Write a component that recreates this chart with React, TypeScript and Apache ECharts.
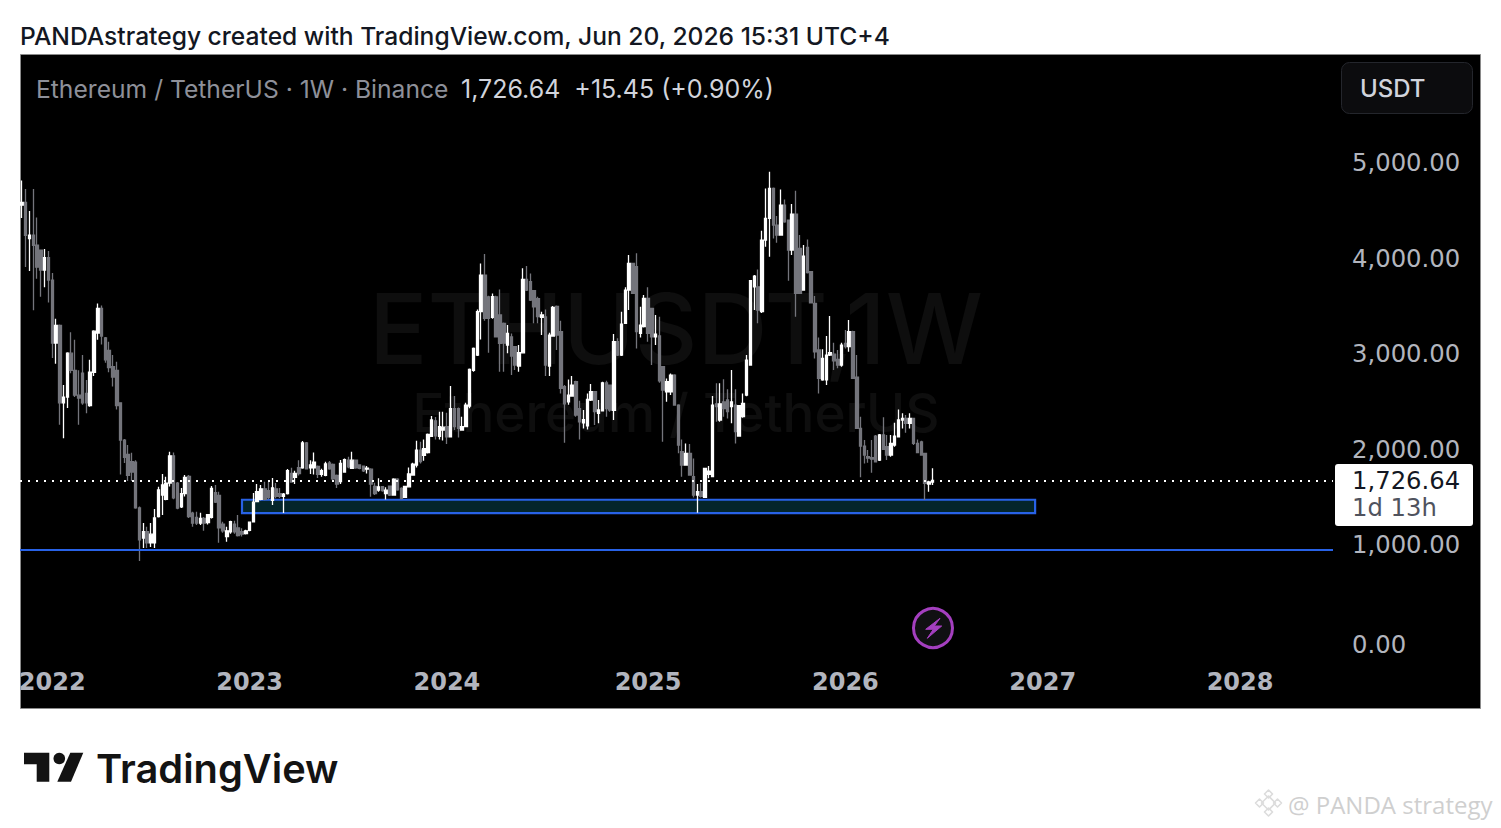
import React, { useEffect, useRef } from "react";
import * as echarts from "echarts";

const candleOpen = [
  4610,4640,4260,4295,4190,4140,3930,4060,3825,3166,
  3350,2540,2600,3060,2880,2620,2850,2640,2510,2860,
  3270,3530,3220,3090,2920,2880,2540,2150,2000,1925,
  1920,1440,1124,1190,1075,1075,1348,1575,1530,1700,
  1985,1700,1450,1590,1770,1385,1340,1280,1330,1285,
  1340,1600,1570,1270,1140,1190,1270,1230,1190,1170,
  1205,1295,1505,1530,1640,1620,1520,1640,1590,1560,
  1590,1800,1760,1860,1860,2120,1860,1860,1875,1790,
  1780,1910,1895,1780,1714,1815,1940,1854,1941,1889,
  1878,1845,1845,1665,1625,1662,1590,1668,1575,1740,
  1645,1550,1660,1784,1889,2045,1990,2018,2190,2352,
  2190,2255,2290,2185,2480,2480,2255,2290,2506,2880,
  3040,3494,3878,3650,3435,3650,3460,3372,3145,3230,
  3127,2925,3064,3833,3808,3714,3630,3435,3440,2925,
  3239,3550,3285,2710,2551,2611,2761,2480,2330,2300,
  2569,2656,2430,2457,2750,2726,2460,3180,3040,3372,
  3721,4000,3965,3267,3337,3634,3529,3230,3240,2918,
  2656,2656,2831,2517,2030,1889,2011,1766,1574,1610,
  1550,1790,1767,2530,2360,2550,2570,2500,2517,2192,
  2395,2622,2936,3755,3755,3494,4244,4471,4785,4401,
  4297,4611,4454,4140,4517,4157,3721,4168,3913,3580,
  3093,2780,2780,3040,3050,2995,2935,3162,3128,3285,
  2810,2272,2087,1977,1965,2192,1940,2203,2080,1993,
  2098,2185,2360,2378,2325,2377,2115,2130,2011,1690,1711,
];
const candleClose = [
  4640,4295,4295,4190,3960,3930,4060,3825,3166,3350,
  2540,2600,3060,2880,2620,2590,2540,2540,2860,3290,
  3530,3240,2990,2910,2810,2510,2150,1970,1780,1815,
  1440,1104,1190,1075,1165,1335,1627,1680,1700,1985,
  1545,1437,1590,1760,1350,1280,1280,1330,1280,1370,
  1645,1500,1230,1200,1200,1295,1190,1150,1165,1200,
  1290,1500,1610,1640,1530,1550,1650,1560,1560,1585,
  1830,1710,1800,1800,2120,1850,1890,1920,1790,1830,
  1900,1850,1745,1690,1906,1945,1870,1940,1860,1854,
  1829,1855,1690,1590,1660,1620,1625,1574,1740,1630,
  1540,1665,1795,1899,2045,1925,2060,2210,2360,2193,
  2290,2285,2185,2480,2290,2272,2290,2516,2890,3110,
  3494,3878,3424,3424,3651,3232,3162,3165,3267,3030,
  2935,3065,3833,3720,3616,3546,3442,3460,2935,3250,
  3539,3250,2691,2530,2620,2726,2412,2342,2365,2576,
  2656,2447,2465,2750,2480,2464,3180,3040,3365,3721,
  4000,3686,3285,3354,3634,3267,3232,3260,2770,2674,
  2761,2831,2517,2098,1889,2011,1784,1574,1610,1560,
  1854,1825,2517,2500,2530,2480,2447,2550,2238,2510,
  2534,2988,3819,3867,3511,4244,4471,4785,4401,4297,
  4611,4436,4140,4517,3686,3686,4077,3903,3588,3075,
  2796,3005,3040,3065,2980,2935,3145,3128,3285,2796,
  2272,2087,1993,1960,1950,1923,2203,2053,1993,2116,
  2192,2360,2378,2325,2378,2115,2018,1993,1697,1711,1726.64,
];
const candleLow = [
  4475,3962,3920,3510,3840,3650,3750,3590,3010,2950,
  2310,2170,2485,2850,2600,2310,2520,2430,2500,2820,
  3200,3150,2960,2860,2710,2470,1790,1910,1722,1722,
  1430,883,1020,1020,1030,1020,1340,1365,1520,1665,
  1530,1425,1440,1560,1335,1243,1260,1260,1200,1265,
  1330,1490,1075,1180,1086,1170,1170,1140,1140,1160,
  1195,1290,1500,1520,1520,1530,1470,1540,1543,1386,
  1580,1703,1690,1780,1850,1845,1795,1790,1753,1766,
  1770,1840,1730,1647,1690,1815,1854,1850,1850,1845,
  1815,1801,1557,1574,1609,1609,1529,1565,1570,1620,
  1529,1545,1655,1780,1864,1905,1934,2010,2185,2157,
  2157,2145,2108,2178,2255,2178,2248,2285,2482,2866,
  3030,3204,3400,3065,3420,3225,2866,2866,3058,2831,
  2883,2866,3060,3710,3605,3372,3372,3250,2820,2820,
  3235,3093,2639,2122,2520,2604,2395,2157,2272,2260,
  2560,2307,2325,2450,2395,2447,2360,3030,3030,3365,
  3511,3680,3110,3225,3330,3180,2936,3145,2750,2133,
  2552,2621,2510,2011,1767,1880,1780,1550,1390,1550,
  1545,1749,1760,2342,2342,2395,2377,2325,2115,2185,
  2385,2610,2930,3511,3372,3480,4175,4070,4262,4216,
  4290,4425,3819,4087,3442,3680,3715,3895,3580,3005,
  2639,2772,2726,3030,2883,2901,2918,3110,3075,2790,
  2265,1760,1906,1913,1808,1915,1930,2045,1941,1975,
  2080,2180,2272,2227,2272,2098,2011,1985,1522,1609,1680,
];
const candleHigh = [
  4868,4778,4550,4778,4480,4140,4150,4130,3900,3420,
  3360,2727,3070,3280,3200,2880,3040,2780,2990,3300,
  3580,3560,3230,3180,3040,2970,2540,2160,2098,2018,
  1940,1455,1281,1243,1281,1428,1662,1795,1766,2028,
  2020,1712,1647,1784,1784,1400,1400,1390,1344,1376,
  1669,1680,1610,1295,1243,1305,1305,1365,1228,1210,
  1295,1596,1690,1680,1714,1710,1752,1700,1647,1596,
  1847,1860,1830,1940,2140,2130,1940,2020,1883,1850,
  1924,1930,1905,1790,1941,1958,1976,2028,1945,1895,
  1885,1878,1854,1703,1749,1670,1655,1672,1749,1749,
  1655,1668,1864,1913,2143,2133,2157,2220,2402,2392,
  2447,2447,2436,2716,2611,2490,2395,2541,2900,3120,
  3518,3999,4098,3660,3686,3660,3728,3380,3354,3267,
  3130,3145,3948,3972,3895,3720,3651,3494,3518,3274,
  3553,3560,3400,2726,2785,2820,2770,2562,2464,2639,
  2737,2665,2570,2761,2771,2730,3260,3215,3494,3749,
  4087,4005,4105,3546,3670,3749,3535,3459,3442,2925,
  2796,2848,2840,2525,2157,2115,2108,1958,1690,1697,
  1860,1878,2611,2744,2744,2786,2681,2883,2681,2517,
  2639,3040,3826,3878,3937,4342,4785,4960,4796,4496,
  4775,4670,4460,4621,4761,4297,4192,4251,3920,3658,
  3225,3100,3239,3449,3169,3093,3169,3302,3407,3295,
  3040,2394,2150,2046,2150,2203,2213,2388,2203,2203,
  2332,2471,2430,2412,2430,2385,2157,2143,2018,1725,1854,
];

const firstWeek = "2021-11-08";
const weekCount = 346;
const yearLabelWeeks = ["2022-01-03", "2023-01-02", "2024-01-01", "2025-01-06", "2026-01-05", "2027-01-04", "2028-01-03"];
const lastPrice = 1726.64;
const supportLevel = 1000;
const zoneLow = 1386;
const zoneHigh = 1525;
const zoneStartWeek = 58;
const zoneEndWeek = 267;

const weeks: string[] = [];
for (let i = 0; i < weekCount; i++) {
  const d = new Date(Date.parse(firstWeek + "T00:00:00Z") + i * 7 * 86400000);
  weeks.push(d.toISOString().slice(0, 10));
}
const candles = candleOpen.map((o, i) => [o, candleClose[i], candleLow[i], candleHigh[i]]);

const UI = "Inter, 'Noto Sans', sans-serif";
const NUM = "'DejaVu Sans', sans-serif";
const BLUE = "#2862e6";

const txt = (text: string, x: number, y: number, font: string, fill: string, z = 10, align = "left") => ({
  type: "text",
  x,
  y,
  z,
  silent: true,
  style: { text, font, fill, align, verticalAlign: "middle", textAlign: align, textVerticalAlign: "middle" },
});
const poly = (points: number[][], fill: string, z = 10, stroke?: string, lineWidth = 0) => ({
  type: "polygon",
  z,
  silent: true,
  shape: { points },
  style: { fill, stroke, lineWidth, lineJoin: "round" },
});
const diamond = (cx: number, cy: number, r: number, stroke: string) =>
  poly([[cx, cy - r], [cx + r, cy], [cx, cy + r], [cx - r, cy]], "rgba(255,255,255,0)", 10, stroke, 1.6);

export default function App() {
  const ref = useRef<HTMLDivElement>(null);
  useEffect(() => {
    const chart = echarts.init(ref.current!, undefined, { renderer: "svg" });
    const labelStyle = { color: "#b2b5be", fontFamily: NUM, fontSize: 24.3 };
    chart.setOption({
      animation: false,
      backgroundColor: "#ffffff",
      grid: { left: 20, top: 72.4, width: 1313, height: 573, containLabel: false },
      xAxis: {
        type: "category",
        data: weeks,
        boundaryGap: true,
        axisLine: { show: false },
        axisTick: { show: false },
        splitLine: { show: false },
        axisLabel: {
          show: true,
          margin: 25,
          interval: (_: number, v: string) => yearLabelWeeks.includes(v),
          hideOverlap: false,
          formatter: (v: string) => v.slice(0, 4),
          color: "#b2b5be",
          fontFamily: NUM,
          fontWeight: "bold",
          fontSize: 24,
        },
      },
      yAxis: {
        type: "value",
        position: "right",
        min: 0,
        max: 6000,
        interval: 1000,
        axisLine: { show: false },
        axisTick: { show: false },
        splitLine: { show: false },
        axisLabel: {
          margin: 19,
          align: "left",
          formatter: (v: number) => {
            if (v >= 6000) return "";
            const s = v.toLocaleString("en-US", { minimumFractionDigits: 2, maximumFractionDigits: 2 });
            return v === 0 ? `{z|${s}}` : `{a|${s}}`;
          },
          rich: {
            a: { ...labelStyle, padding: [0, 0, 10, 0] },
            z: { ...labelStyle, padding: [0, 0, 2, 0] },
          },
        },
      },
      series: [
        {
          type: "candlestick",
          data: candles,
          barWidth: 3,
          clip: false,
          itemStyle: {
            color: "#ffffff",
            color0: "#74757c",
            borderColor: "#ffffff",
            borderColor0: "#74757c",
            borderWidth: 1.3,
          },
          markArea: {
            silent: true,
            itemStyle: { color: "#04252a", borderColor: BLUE, borderWidth: 2.2 },
            data: [[{ xAxis: zoneStartWeek, yAxis: zoneHigh }, { xAxis: zoneEndWeek, yAxis: zoneLow }]],
          },
          markLine: {
            silent: true,
            symbol: "none",
            label: { show: false },
            data: [
              { yAxis: lastPrice, lineStyle: { color: "#ffffff", type: [2, 6], width: 2 } },
              { yAxis: supportLevel, lineStyle: { color: BLUE, type: "solid", width: 2.2 } },
            ],
          },
        },
      ],
      graphic: {
        elements: [
          {
            type: "rect", z: -20, silent: true,
            shape: { x: 20.5, y: 54.5, width: 1460, height: 654 },
            style: { fill: "#000000", stroke: "#8a8a8a", lineWidth: 1 },
          },
          txt("ETHUSDT,1W", 676, 328, `500 97px ${UI}`, "#0e0e0e", -10, "center"),
          txt("Ethereum / TetherUS", 676, 413, `500 53px ${UI}`, "#0e0e0e", -10, "center"),
          txt("PANDAstrategy created with TradingView.com, Jun 20, 2026 15:31 UTC+4", 20, 36, `500 24.6px ${UI}`, "#131722"),
          txt("Ethereum / TetherUS · 1W · Binance", 36, 89, `400 24.65px ${UI}`, "#8e9099"),
          txt("1,726.64  +15.45 (+0.90%)", 461, 89, `400 25px ${UI}`, "#d1d4dc"),
          {
            type: "rect", z: 8, silent: true,
            shape: { x: 1341.5, y: 62.5, width: 131, height: 51, r: 8 },
            style: { fill: "#0c0c0e", stroke: "#24262c", lineWidth: 1 },
          },
          txt("USDT", 1360, 88, `500 24px ${UI}`, "#d1d4dc"),
          {
            type: "rect", z: 8, silent: true,
            shape: { x: 1335, y: 464, width: 138, height: 62, r: 3 },
            style: { fill: "#ffffff" },
          },
          txt("1,726.64", 1352, 480, `400 24.3px ${NUM}`, "#131722"),
          txt("1d 13h", 1352, 507, `400 24.3px ${NUM}`, "#50535e"),
          {
            type: "circle", z: 8, silent: true,
            shape: { cx: 933, cy: 628, r: 19.5 },
            style: { fill: "#101012", stroke: "#a43fbf", lineWidth: 3 },
          },
          poly([[940, 618.3], [925.7, 629.3], [933.3, 629.3], [927.3, 638.3], [941.7, 626], [934.3, 626]], "#a43fbf", 9, "#a43fbf", 1),
          poly([[24, 752.7], [49.3, 752.7], [49.3, 781.7], [36.7, 781.7], [36.7, 764.3], [24, 764.3]], "#131313"),
          { type: "circle", z: 10, silent: true, shape: { cx: 59.3, cy: 758.5, r: 5.8 }, style: { fill: "#131313" } },
          poly([[83.3, 752.7], [70.3, 752.7], [57.3, 781.7], [71, 781.7]], "#131313"),
          txt("TradingView", 96, 768, `600 39.8px ${UI}`, "#131313"),
          diamond(1268.5, 803, 7, "#dcdcdc"),
          diamond(1268.5, 794, 4, "#dcdcdc"),
          diamond(1268.5, 812, 4, "#dcdcdc"),
          diamond(1259.5, 803, 4, "#dcdcdc"),
          diamond(1277.5, 803, 4, "#dcdcdc"),
          txt("@ PANDA strategy", 1288, 804, `400 24px 'Open Sans', sans-serif`, "#cfcfcf"),
        ],
      },
    });
    return () => chart.dispose();
  }, []);
  return <div ref={ref} style={{ position: "absolute", left: 0, top: 0, width: 1501, height: 828 }} />;
}
